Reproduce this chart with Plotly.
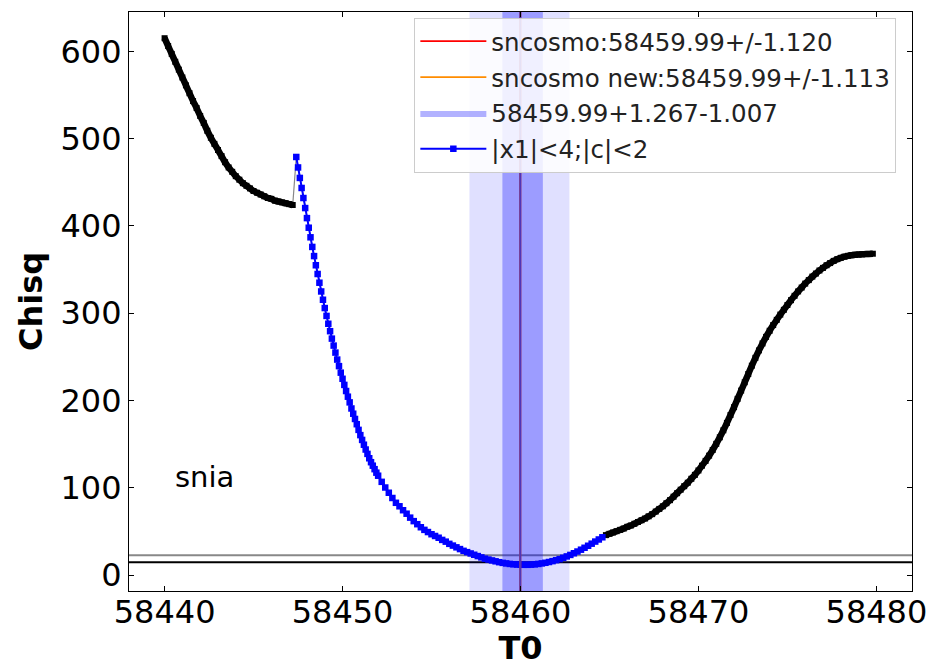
import numpy as np
import plotly.graph_objects as go

# ---------------- data ----------------
t0_left_start, t0_left_step = 58440.0, 0.2
chisq_left = [615, 606, 597, 588, 579, 570, 561, 552, 543, 535, 526, 518, 509, 501,
              494, 487, 480, 473, 467, 462, 457, 453, 449, 446, 443, 440, 438, 436,
              434, 432, 431, 429, 428, 427, 426, 425, 424]

t0_blue_a_start, t0_blue_a_step = 58447.4, 0.1
chisq_blue_a = [479, 467, 455, 443.5, 432, 420.5, 409, 398, 387, 376, 365.5, 355, 345,
                335, 325, 315.5, 306, 297, 288, 279.5, 271, 263, 255, 247, 239.5, 232,
                225, 218, 211, 204.5, 198, 191, 185, 179, 173, 166.5, 160.5, 155, 149.5,
                144, 139, 134, 129.5, 125.5, 121.5, 117.5, 114]

t0_blue_b_start, t0_blue_b_step = 58452.2, 0.2
chisq_blue_b = [107, 100.5, 94.5, 88.5, 83, 79, 74.5, 70.5, 66, 62, 58.5, 55, 52, 49.5,
                47, 45, 43, 40.5, 38.5, 36, 34, 32, 30, 28, 26.5, 25, 23.5, 22, 20.5, 19,
                18, 17, 16, 15, 14.2, 13.6, 13, 12.6, 12.3, 12.1, 12, 12, 12.2, 12.5, 13,
                13.6, 14.3, 15.2, 16.2, 17.3, 18.5, 20, 21.6, 23.3, 25.2, 27.2, 29.3,
                31.5, 33.8, 36.2, 38.6, 41, 43.5]

t0_right_start, t0_right_step = 58464.8, 0.2
chisq_right = [46, 47.5, 49, 50.5, 52, 53.5, 55.5, 57, 59, 61, 63, 65, 67.5, 70, 73, 76,
               79, 82.5, 86, 90, 94, 98, 102, 106, 110.5, 115, 120, 125.5, 131, 137,
               143.5, 150.5, 158, 166, 174.5, 183.5, 192.5, 202, 211.5, 221, 230.5, 240,
               249, 257.5, 265.5, 273, 280, 286.5, 292.5, 298.5, 304, 309.5, 315, 320,
               325, 329.5, 334, 338, 342, 345.5, 349, 352, 355, 357.5, 360, 362,
               363.5, 364.8, 365.8, 366.5, 367, 367.3, 367.6, 367.8, 368, 368.2]

t0_best = 58459.99
err_sncosmo = 1.120
err_new = 1.113
err_plus = 1.267
err_minus = 1.007
band_outer_lo = 58457.13
band_outer_hi = 58462.75
hline_black = 14.8
hline_gray = 22.8

x_ticks = [58440, 58450, 58460, 58470, 58480]
y_ticks = [0, 100, 200, 300, 400, 500, 600]
x_range = [58438, 58482]
y_range = [-18, 645]

# ---------------- build ----------------
def grid(start, step, vals):
    return list(np.round(start + step * np.arange(len(vals)), 2))

x_left = grid(t0_left_start, t0_left_step, chisq_left)
x_ba = grid(t0_blue_a_start, t0_blue_a_step, chisq_blue_a)
x_bb = grid(t0_blue_b_start, t0_blue_b_step, chisq_blue_b)
x_right = grid(t0_right_start, t0_right_step, chisq_right)
x_blue = x_ba + x_bb
y_blue = chisq_blue_a + chisq_blue_b
x_all = x_left + x_blue + x_right
y_all = chisq_left + y_blue + chisq_right

FONT = "DejaVu Sans"
fig = go.Figure()

fig.add_trace(go.Scatter(x=x_all, y=y_all, mode="lines",
                         line=dict(color="#888888", width=1.2), showlegend=False,
                         hoverinfo="skip"))
for xs, ys in [(x_left, chisq_left), (x_right, chisq_right)]:
    fig.add_trace(go.Scatter(x=xs, y=ys, mode="lines+markers",
                             line=dict(color="black", width=6.5, shape="spline", smoothing=0.6),
                             marker=dict(symbol="square", size=6, color="black"),
                             showlegend=False))
fig.add_trace(go.Scatter(x=x_blue, y=y_blue, mode="lines+markers",
                         name="|x1|<4;|c|<2", legendrank=4, legendgroup="d",
                         line=dict(color="#0000ff", width=2),
                         marker=dict(symbol="square", size=6.5, color="#0000ff")))
fig.add_trace(go.Scatter(x=[t0_best, t0_best], y=y_range, mode="lines",
                         name=f"sncosmo:{t0_best:.2f}+/-{err_sncosmo:.3f}",
                         legendrank=1, legendgroup="a",
                         line=dict(color="#ff0000", width=1.8)))
fig.add_trace(go.Scatter(x=[t0_best, t0_best], y=y_range, mode="lines",
                         name=f"sncosmo new:{t0_best:.2f}+/-{err_new:.3f}",
                         legendrank=2, legendgroup="b",
                         line=dict(color="#ff8c00", width=1.8)))
fig.add_trace(go.Scatter(x=[band_outer_lo, band_outer_hi, band_outer_hi, band_outer_lo, band_outer_lo],
                         y=[y_range[0], y_range[0], y_range[1], y_range[1], y_range[0]],
                         mode="lines", fill="toself", fillcolor="rgba(0,0,255,0.12)",
                         line=dict(width=0), showlegend=False, hoverinfo="skip"))
lo, hi = t0_best - err_minus, t0_best + err_plus
fig.add_trace(go.Scatter(x=[lo, hi, hi, lo, lo],
                         y=[y_range[0], y_range[0], y_range[1], y_range[1], y_range[0]],
                         mode="lines", fill="toself", fillcolor="rgba(0,0,255,0.30)",
                         line=dict(width=0, color="rgba(0,0,255,0.3)"),
                         name=f"{t0_best:.2f}+{err_plus:.3f}-{err_minus:.3f}",
                         legendrank=3, legendgroup="c"))
fig.add_trace(go.Scatter(x=[t0_best, t0_best], y=y_range, mode="lines",
                         line=dict(color="#4f35b8", width=1.6), showlegend=False,
                         hoverinfo="skip"))

fig.add_shape(type="line", xref="paper", x0=0, x1=1, yref="y", y0=hline_gray, y1=hline_gray,
              line=dict(color="#888888", width=2), layer="below")
fig.add_shape(type="line", xref="paper", x0=0, x1=1, yref="y", y0=hline_black, y1=hline_black,
              line=dict(color="black", width=2), layer="below")

fig.add_annotation(x=58440.5, y=113, xref="x", yref="y", text="snia", showarrow=False,
                   xanchor="left", yanchor="middle", font=dict(family=FONT, size=29, color="black"))

axis_common = dict(showline=True, linecolor="black", linewidth=1.2, mirror="ticks",
                   ticks="inside", ticklen=5, tickwidth=1.2, tickcolor="black",
                   showgrid=False, zeroline=False, automargin=False,
                   tickfont=dict(family=FONT, size=32, color="black"))
fig.update_xaxes(range=x_range, tickvals=x_ticks, ticktext=[str(v) for v in x_ticks],
                 ticklabelstandoff=-8,
                 title=dict(text="T0", font=dict(family=FONT, size=32, color="black", weight="bold"),
                            standoff=6),
                 **axis_common)
fig.update_yaxes(range=y_range, tickvals=y_ticks, ticktext=[str(v) for v in y_ticks],
                 title=dict(text="Chisq", font=dict(family=FONT, size=32, color="black", weight="bold"),
                            standoff=8),
                 **axis_common)

fig.update_layout(
    width=930, height=667,
    margin=dict(l=129, r=18, t=12, b=76),
    plot_bgcolor="white", paper_bgcolor="white",
    font=dict(family=FONT, color="black"),
    legend=dict(x=0.98, y=0.99, xanchor="right", yanchor="top",
                bgcolor="rgba(255,255,255,0.85)", bordercolor="#cccccc", borderwidth=1,
                font=dict(family=FONT, size=24.5, color="#222222"),
                traceorder="grouped", tracegroupgap=1, itemwidth=66),
)

fig.write_html("out.html")
